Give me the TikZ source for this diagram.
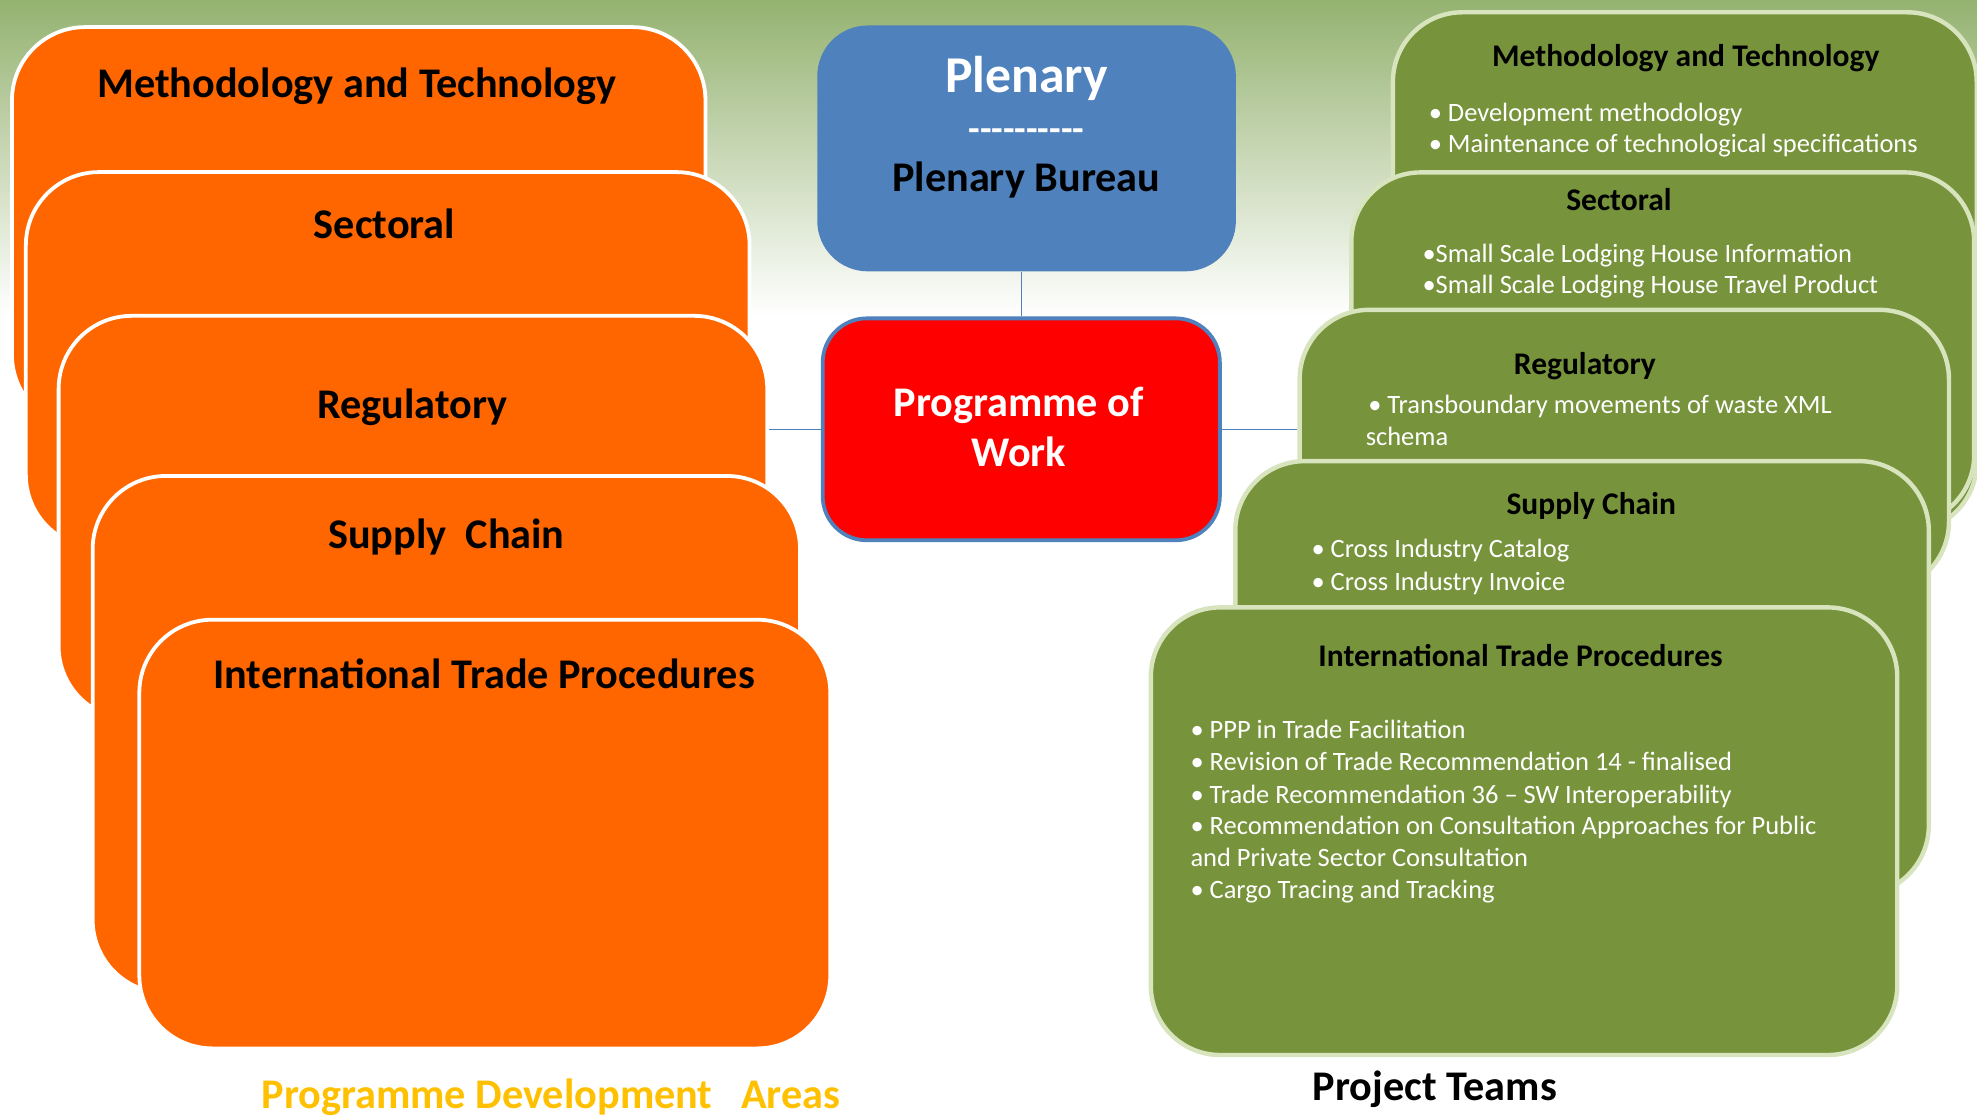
\documentclass[tikz,border=0pt]{standalone}
\usepackage{fontspec}
\setmainfont{Carlito}
\usetikzlibrary{calc}
\definecolor{orangeF}{RGB}{255,102,0}
\definecolor{greenF}{RGB}{119,147,60}
\definecolor{greenB}{RGB}{215,228,189}
\definecolor{blueF}{RGB}{79,129,189}
\definecolor{redF}{RGB}{255,0,0}
\definecolor{goldT}{RGB}{255,192,0}
\definecolor{bgG}{RGB}{148,178,112}
\definecolor{bgM}{RGB}{210,225,188}
\begin{document}
\begin{tikzpicture}[x=1pt,y=-1pt,
  obox/.style={draw=white, line width=3pt, fill=orangeF, rounded corners=58pt, anchor=north west, inner sep=0pt},
  gbox/.style={draw=greenB, line width=3.5pt, fill=greenF, rounded corners=55pt, anchor=north west, inner sep=0pt},
  ttl/.style={font=\bfseries\fontsize{33.5}{40}\selectfont, anchor=base, inner sep=0pt},
  gttl/.style={font=\bfseries\fontsize{25}{30}\selectfont, anchor=base, inner sep=0pt},
  bul/.style={font=\fontsize{21}{25}\selectfont, text=white, anchor=base west, inner sep=0pt},
  conn/.style={draw=blueF, line width=1.2pt}
]
\useasboundingbox (0,0) rectangle (1568,885);
\fill[white] (0,0) rectangle (1568,885);
\shade[top color=bgG, middle color=bgM, bottom color=white] (0,0) rectangle (1568,250);

% orange boxes
\node[obox, minimum width=550pt, minimum height=318pt] (o1) at (8,20) {};
\node[obox, minimum width=574pt, minimum height=298pt] (o2) at (19,135) {};
\node[obox, minimum width=562pt, minimum height=320pt] (o3) at (45,249) {};
\node[obox, minimum width=561pt, minimum height=410pt] (o4) at (72,376) {};
\node[obox, minimum width=548pt, minimum height=340pt] (o5) at (109,490) {};

\node[ttl] (o1t) at (283,77) {Methodology and Technology};
\node[ttl] (o2t) at (305,189) {Sectoral};
\node[ttl] (o3t) at (327,332) {Regulatory};
\node[ttl] (o4t) at (354,435) {Supply\ \ Chain};
\node[ttl] (o5t) at (384,546) {International Trade Procedures};

% green boxes
\node[gbox, minimum width=463pt, minimum height=412pt] (g1) at (1103,8) {};
\node[gbox, minimum width=494pt, minimum height=279pt] (g2) at (1070,135) {};
\node[gbox, minimum width=515pt, minimum height=223pt] (g3) at (1029,244) {};
\node[gbox, minimum width=550pt, minimum height=344pt] (g4) at (978,364) {};
\node[gbox, minimum width=592pt, minimum height=355pt] (g5) at (911,480) {};

\node[gttl] (g1t) at (1337,53) {Methodology and Technology};
\node[bul] (g1a) at (1133,96) {• Development methodology};
\node[bul] (g1b) at (1133,121) {• Maintenance of technological specifications};

\node[gttl] (g2t) at (1284,167) {Sectoral};
\node[bul] (g2a) at (1128,208) {•Small Scale Lodging House Information};
\node[bul] (g2b) at (1128,233) {•Small Scale Lodging House Travel Product};

\node[gttl] (g3t) at (1257,297) {Regulatory};
\node[bul] (g3a) at (1085,328) {• Transboundary movements of waste XML};
\node[bul] (g3b) at (1083,353) {schema};

\node[gttl] (g4t) at (1262,408) {Supply Chain};
\node[bul] (g4a) at (1040,442) {• Cross Industry Catalog};
\node[bul] (g4b) at (1040,468) {• Cross Industry Invoice};

\node[gttl] (g5t) at (1206,529) {International Trade Procedures};
\node[bul] (g5a) at (944,586) {• PPP in Trade Facilitation};
\node[bul] (g5b) at (944,611) {• Revision of Trade Recommendation 14 - finalised};
\node[bul] (g5c) at (944,637) {• Trade Recommendation 36 – SW Interoperability};
\node[bul] (g5d) at (944,662) {• Recommendation on Consultation Approaches for Public};
\node[bul] (g5e) at (944,687) {and Private Sector Consultation};
\node[bul] (g5f) at (944,713) {• Cargo Tracing and Tracking};

% central boxes
\node[fill=blueF, rounded corners=40pt, anchor=north west, inner sep=0pt, minimum width=332pt, minimum height=195pt] (plen) at (648,20) {};
\node[fill=redF, draw=blueF, line width=3pt, rounded corners=35pt, anchor=north west, inner sep=0pt, minimum width=315pt, minimum height=176pt] (pow) at (651,251) {};

\draw[conn] (plen.south -| pow.north) -- (pow.north);
\draw[conn] (pow.west) -- (pow.west -| o3.east);
\draw[conn] (pow.east) -- (pow.east -| g3.west);

\node[ttl, text=white, font=\bfseries\fontsize{41}{48}\selectfont] (plt) at (814,73) {Plenary};
\node[ttl, text=white, font=\bfseries\fontsize{30}{36}\selectfont] (pld) at (814,112) {-{}-{}-{}-{}-{}-{}-{}-{}-{}-};
\node[ttl] (plb) at (814,152) {Plenary Bureau};
\node[ttl, text=white] (pw1) at (808,330) {Programme of};
\node[ttl, text=white] (pw2) at (808,370) {Work};

% captions
\node[ttl, text=goldT] (cap1) at (437,879) {Programme Development\ \ \ Areas};
\node[ttl] (cap2) at (1138,873) {Project Teams};
\end{tikzpicture}
\end{document}
